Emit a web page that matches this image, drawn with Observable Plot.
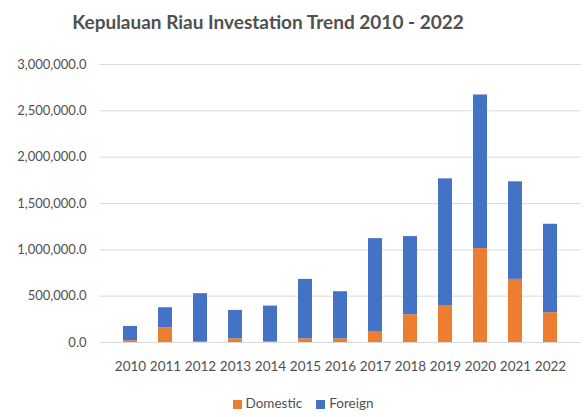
<!DOCTYPE html>
<html>
<head>
<meta charset="utf-8">
<script src="https://cdn.jsdelivr.net/npm/d3@7"></script>
<script src="https://cdn.jsdelivr.net/npm/@observablehq/plot@0.6"></script>
<style>
  html, body { margin: 0; padding: 0; background: #fff; }
  body { width: 586px; height: 417px; overflow: hidden; font-family: Lato, "Open Sans", sans-serif; }
  #title { height: 44px; line-height: 44px; box-sizing: border-box; text-align: center; padding-right: 50px;
           font-size: 19px; font-weight: 700; color: #505050; white-space: nowrap; }
  #legend { display: flex; justify-content: center; align-items: center; gap: 14px; padding-left: 20px;
            font-size: 13.5px; color: #505050; height: 28px; }
  #legend span.sw { display: inline-block; width: 9px; height: 9px; margin-right: 4px; vertical-align: -1px; }
</style>
</head>
<body>
<div id="title">Kepulauan Riau Investation Trend 2010 - 2022</div>
<div id="chart"></div>
<div id="legend"></div>
<script>
const years = ["2010","2011","2012","2013","2014","2015","2016","2017","2018","2019","2020","2021","2022"];
const domestic = [20000, 159000, 5000, 40000, 5000, 40000, 40000, 112000, 300000, 393000, 1013000, 681000, 321000];
const total = [173000, 375000, 527000, 346000, 393000, 681000, 548000, 1121000, 1143000, 1766000, 2671000, 1734000, 1276000];
const foreign = total.map((t, i) => t - domestic[i]);
const seriesNames = ["Domestic", "Foreign"];
const seriesColors = ["#ED7D31", "#4472C4"];
const yTicks = [0, 500000, 1000000, 1500000, 2000000, 2500000, 3000000];

const rows = [];
years.forEach((y, i) => {
  rows.push({year: y, series: "Domestic", value: domestic[i]});
  rows.push({year: y, series: "Foreign", value: foreign[i]});
});

const fmt = d3.format(",.1f");

const chart = Plot.plot({
  width: 586,
  height: 345,
  marginTop: 20,
  marginBottom: 47,
  marginLeft: 99.5,
  marginRight: 5,
  style: {fontFamily: "Lato, 'Open Sans', sans-serif", fontSize: "13px", color: "#505050", background: "#fff"},
  x: {domain: years, padding: 0.6, label: null, tickSize: 0, tickPadding: 19},
  y: {domain: [0, 3000000], ticks: yTicks, tickFormat: fmt, label: null, tickSize: 0, tickPadding: 13.5},
  color: {domain: seriesNames, range: seriesColors},
  marks: [
    Plot.gridY(yTicks, {stroke: "#d9d9d9", strokeOpacity: 1, strokeWidth: 1}),
    Plot.barY(rows, {x: "year", y: "value", fill: "series", order: seriesNames}),
    Plot.axisX({tickSize: 0, tickPadding: 19, label: null, fontSize: 13.5}),
    Plot.axisY({ticks: yTicks, tickFormat: fmt, tickSize: 0, tickPadding: 13.5, label: null, fontSize: 13})
  ]
});
document.getElementById("chart").appendChild(chart);

const legend = document.getElementById("legend");
seriesNames.forEach((n, i) => {
  const item = document.createElement("div");
  item.innerHTML = `<span class="sw" style="background:${seriesColors[i]}"></span>${n}`;
  legend.appendChild(item);
});
</script>
</body>
</html>
